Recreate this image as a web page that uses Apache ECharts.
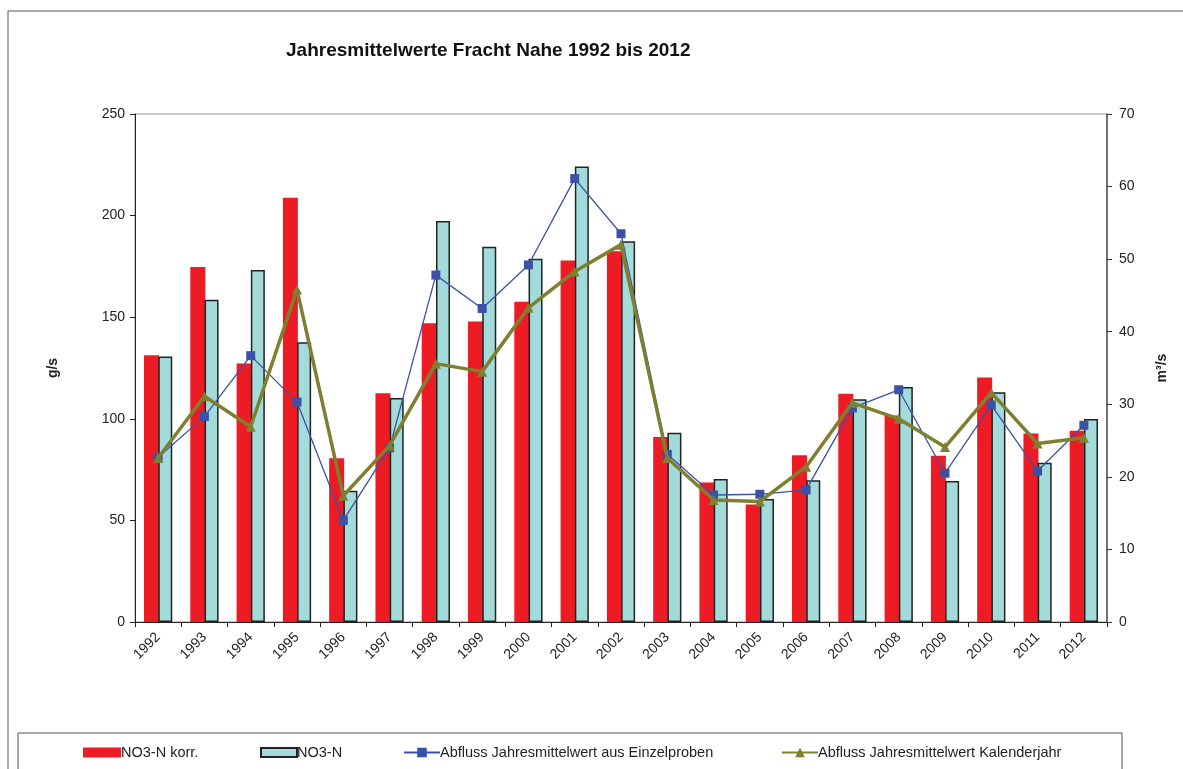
<!DOCTYPE html>
<html lang="de">
<head>
    <meta charset="UTF-8">
    <title>Jahresmittelwerte Fracht Nahe</title>
    <script src="https://cdn.jsdelivr.net/npm/echarts@6/dist/echarts.min.js"></script>
    <style>
        html, body { margin: 0; padding: 0; background: #fff; }
    </style>
</head>
<body>
<div id="chart" style="width: 1183px;height: 769px;"></div>

<script type="text/javascript">
    var years = ['1992', '1993', '1994', '1995', '1996', '1997', '1998', '1999', '2000', '2001', '2002',
        '2003', '2004', '2005', '2006', '2007', '2008', '2009', '2010', '2011', '2012'];

    // Fracht g/s
    var no3nKorr = [131.3, 174.7, 127.2, 208.8, 80.6, 112.6, 147.0, 147.9, 157.6, 177.9, 182.5,
        91.1, 68.7, 57.8, 82.1, 112.3, 101.6, 81.8, 120.3, 92.8, 94.1];
    var no3n = [130.6, 158.6, 173.2, 137.7, 64.6, 110.2, 197.3, 184.7, 178.8, 224.2, 187.4,
        93.1, 70.4, 60.5, 69.7, 109.6, 115.7, 69.4, 113.1, 78.4, 99.9];

    // Abfluss m³/s
    var abflussEinzel = [22.7, 28.3, 36.7, 30.3, 14.0, 24.0, 47.8, 43.2, 49.2, 61.1, 53.5,
        23.1, 17.5, 17.6, 18.2, 29.5, 32.0, 20.5, 29.9, 20.8, 27.1];
    var abflussKalender = [22.6, 31.1, 26.9, 45.8, 17.4, 24.3, 35.6, 34.5, 43.3, 48.3, 52.0,
        22.6, 16.8, 16.6, 21.4, 30.2, 28.0, 24.1, 31.6, 24.6, 25.4];

    var names = ['NO3-N korr.', 'NO3-N', 'Abfluss Jahresmittelwert aus Einzelproben', 'Abfluss Jahresmittelwert Kalenderjahr'];

    var font = 'Liberation Sans, Arial, sans-serif';

    function legendFor(name, left, w, h, icon) {
        var l = {
            data: [name],
            left: left,
            top: 740,
            itemWidth: w,
            itemHeight: h,
            selectedMode: false,
            textStyle: {fontFamily: font, color: '#222', fontSize: 14.5, padding: [0, 0, 0, -5]}
        };
        if (icon) l.icon = icon;
        return l;
    }

    var myChart = echarts.init(document.getElementById('chart'));
    var option = {
        backgroundColor: '#fff',
        animation: false,
        textStyle: {fontFamily: font, color: '#222'},
        title: {
            text: 'Jahresmittelwerte Fracht Nahe 1992 bis 2012',
            left: 281,
            top: 36,
            textStyle: {fontFamily: font, fontSize: 19, fontWeight: 'bold', color: '#111'}
        },
        graphic: [
            {
                type: 'rect',
                shape: {x: 8, y: 11, width: 1200, height: 800},
                style: {fill: 'none', stroke: '#555', lineWidth: 1},
                silent: true, z: -10
            },
            {
                type: 'rect',
                shape: {x: 18, y: 733, width: 1104, height: 60},
                style: {fill: 'none', stroke: '#555', lineWidth: 1},
                silent: true, z: -10
            }
        ],
        legend: [
            legendFor(names[0], 78, 38, 10, 'rect'),
            legendFor(names[1], 255, 36, 9, 'rect'),
            legendFor(names[2], 398, 36, 12),
            legendFor(names[3], 776, 36, 12)
        ],
        grid: {
            left: 135,
            right: 76,
            top: 114,
            bottom: 147,
            show: true,
            borderColor: '#999',
            borderWidth: 1
        },
        xAxis: {
            type: 'category',
            data: years,
            axisLine: {lineStyle: {color: '#222', width: 1}},
            axisTick: {show: true, alignWithLabel: false, length: 5, lineStyle: {color: '#222'}},
            axisLabel: {rotate: 45, fontSize: 14, color: '#222', margin: 13, fontFamily: font}
        },
        yAxis: [
            {
                type: 'value',
                min: 0,
                max: 250,
                interval: 50,
                name: 'g/s',
                nameLocation: 'middle',
                nameGap: 75,
                nameTextStyle: {fontWeight: 'bold', fontSize: 14, color: '#222', fontFamily: font},
                splitLine: {show: false},
                axisLine: {show: true, lineStyle: {color: '#222'}},
                axisTick: {show: true, length: 5, lineStyle: {color: '#222'}},
                axisLabel: {fontSize: 14, color: '#222', margin: 10, fontFamily: font}
            },
            {
                type: 'value',
                min: 0,
                max: 70,
                interval: 10,
                name: 'm³/s',
                nameLocation: 'middle',
                nameGap: 48,
                nameRotate: 90,
                nameTextStyle: {fontWeight: 'bold', fontSize: 14, color: '#222', fontFamily: font},
                splitLine: {show: false},
                axisLine: {show: true, lineStyle: {color: '#555', width: 1.5}},
                axisTick: {show: true, length: 5, lineStyle: {color: '#333'}},
                axisLabel: {fontSize: 14, color: '#222', margin: 12, fontFamily: font}
            }
        ],
        series: [
            {
                name: names[0],
                type: 'bar',
                yAxisIndex: 0,
                barWidth: 15,
                barGap: '-5%',
                itemStyle: {color: '#ED1C24'},
                data: no3nKorr
            },
            {
                name: names[1],
                type: 'bar',
                yAxisIndex: 0,
                barWidth: 14,
                itemStyle: {color: '#A3DBDB', borderColor: '#222', borderWidth: 1.5},
                data: no3n
            },
            {
                name: names[2],
                type: 'line',
                yAxisIndex: 1,
                symbol: 'rect',
                symbolSize: 9,
                lineStyle: {color: '#3A52A6', width: 1.3},
                itemStyle: {color: '#3A52A6'},
                data: abflussEinzel,
                z: 3
            },
            {
                name: names[3],
                type: 'line',
                yAxisIndex: 1,
                symbol: 'triangle',
                symbolSize: 10,
                lineStyle: {color: '#7F7F30', width: 3.5},
                itemStyle: {color: '#7F7F30'},
                data: abflussKalender,
                z: 4
            }
        ]
    };

    myChart.setOption(option);
</script>
</body>
</html>
